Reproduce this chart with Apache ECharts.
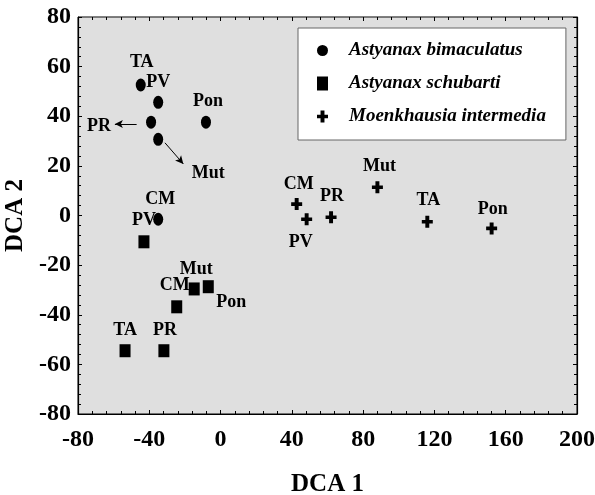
<!DOCTYPE html>
<html>
<head>
<meta charset="utf-8">
<script src="https://cdn.jsdelivr.net/npm/echarts@6/dist/echarts.min.js"></script>
<style>html,body{margin:0;padding:0;background:#fff}#c{width:595px;height:495px}</style>
</head>
<body>
<div id="c"></div>
<script>
// ---- data ----
const seriesNames = ['Astyanax bimaculatus', 'Astyanax schubarti', 'Moenkhausia intermedia'];
const bimacSites = ['TA', 'PV', 'PR', 'Mut', 'Pon', 'CM'];
const bimacX = [-44.8, -35.0, -39.0, -35.0, -8.2, -35.0];
const bimacY = [52.6, 45.6, 37.6, 30.7, 37.6, -1.5];
const schubSites = ['PV', 'Mut', 'Pon', 'CM', 'TA', 'PR'];
const schubX = [-43.0, -14.8, -6.9, -24.6, -53.6, -31.8];
const schubY = [-10.6, -29.6, -28.7, -36.8, -54.5, -54.5];
const moenkSites = ['CM', 'PV', 'PR', 'Mut', 'TA', 'Pon'];
const moenkX = [42.7, 48.3, 62.0, 88.0, 116.0, 152.1];
const moenkY = [4.6, -1.5, -0.7, 11.4, -2.5, -5.2];
// annotation arrows (data coordinates): [x1, y1, x2, y2]
const arrowSegments = [[-47.1, 36.9, -59.3, 36.9], [-31.2, 29.3, -20.9, 20.8]];
const xTicks = [-80, -40, 0, 40, 80, 120, 160, 200];
const yTicks = [-80, -60, -40, -20, 0, 20, 40, 60, 80];

// ---- label placement (pixels, styling only) ----
const bimacLabelOffsets = [[1, -23], [0, -20], [-52, 4], [50, 34], [2, -21], [2, -20]];
const schubLabelOffsets = [[0, -21], [2, -20], [23, 16], [-2, -21], [0, -20], [1, -20]];
const moenkLabelOffsets = [[2, -20], [-6, 23], [1, -21], [2, -21], [1, -21], [1, -19]];

const FONT = '"Liberation Serif", "Times New Roman", serif';
const plusPath = 'path://M3.6,0H7.6V4.2H11.2V7.8H7.6V12H3.6V7.8H0V4.2H3.6Z';

function build(xs, ys, names, offs) {
  return xs.map((x, i) => ({
    value: [x, ys[i]],
    name: names[i],
    label: { offset: offs[i] }
  }));
}
const pointLabel = {
  show: true, position: 'inside', formatter: p => p.name,
  color: '#000', fontFamily: FONT, fontWeight: 'bold', fontSize: 18
};

const chart = echarts.init(document.getElementById('c'), null, { renderer: 'canvas' });
const axisCommon = {
  type: 'value',
  axisLine: { show: true, onZero: false, lineStyle: { color: '#000', width: 1.2 } },
  axisTick: { show: true, inside: true, length: 4, lineStyle: { color: '#000' } },
  minorTick: { show: true, splitNumber: 5, length: 3, lineStyle: { color: '#000' } },
  splitLine: { show: false }
};
const tickLabel = { color: '#000', fontFamily: FONT, fontWeight: 'bold', fontSize: 24 };

chart.setOption({
  animation: false,
  backgroundColor: '#fff',
  grid: {
    left: 78, right: 18, top: 17, bottom: 81,
    outerBoundsMode: 'none', containLabel: false,
    show: true, backgroundColor: '#dfdfdf', borderColor: '#000', borderWidth: 1
  },
  legend: {
    data: seriesNames,
    orient: 'vertical',
    left: 298, top: 28,
    backgroundColor: '#fff',
    borderColor: '#666', borderWidth: 1,
    padding: [13, 20, 14, 19],
    itemGap: 14,
    itemWidth: 11, itemHeight: 14,
    textStyle: { color: '#000', fontFamily: FONT, fontStyle: 'italic', fontWeight: 'bold', fontSize: 19, padding: [0, 0, 0, 16] }
  },
  xAxis: [
    Object.assign({}, axisCommon, {
      min: -80, max: 200, interval: 40, position: 'bottom',
      axisLabel: Object.assign({ margin: 14, customValues: xTicks }, tickLabel),
      name: 'DCA 1', nameLocation: 'middle', nameGap: 58,
      nameTextStyle: { color: '#000', fontFamily: FONT, fontWeight: 'bold', fontSize: 25 }
    }),
    Object.assign({}, axisCommon, {
      min: -80, max: 200, interval: 40, position: 'top',
      axisLabel: { show: false },
      axisLine: { show: true, onZero: false, lineStyle: { color: '#777', width: 1 } }
    })
  ],
  yAxis: [
    Object.assign({}, axisCommon, {
      min: -80, max: 80, interval: 20, position: 'left',
      axisLabel: Object.assign({ margin: 7, customValues: yTicks }, tickLabel),
      name: 'DCA 2', nameLocation: 'middle', nameGap: 40,
      nameTextStyle: { color: '#000', fontFamily: FONT, fontWeight: 'bold', fontSize: 25 }
    }),
    Object.assign({}, axisCommon, {
      min: -80, max: 80, interval: 20, position: 'right',
      axisLabel: { show: false }
    })
  ],
  series: [
    {
      name: seriesNames[0], type: 'scatter',
      symbol: 'circle', symbolSize: [10, 13],
      itemStyle: { color: '#000', opacity: 1 },
      label: pointLabel,
      data: build(bimacX, bimacY, bimacSites, bimacLabelOffsets),
      markLine: {
        silent: true, animation: false,
        symbol: ['none', 'arrow'], symbolSize: [6, 8],
        lineStyle: { color: '#000', width: 1, type: 'solid' },
        label: { show: false },
        data: arrowSegments.map(s => [{ coord: [s[0], s[1]] }, { coord: [s[2], s[3]] }])
      }
    },
    {
      name: seriesNames[1], type: 'scatter',
      symbol: 'rect', symbolSize: [11, 13],
      itemStyle: { color: '#000', opacity: 1 },
      label: pointLabel,
      data: build(schubX, schubY, schubSites, schubLabelOffsets)
    },
    {
      name: seriesNames[2], type: 'scatter',
      symbol: plusPath, symbolSize: [11, 12],
      itemStyle: { color: '#000', opacity: 1 },
      label: pointLabel,
      data: build(moenkX, moenkY, moenkSites, moenkLabelOffsets)
    }
  ]
});
</script>
</body>
</html>
